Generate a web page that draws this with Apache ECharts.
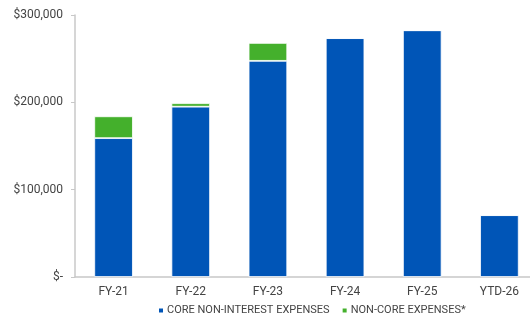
<!DOCTYPE html>
<html>
<head>
<meta charset="utf-8">
<script src="https://cdn.jsdelivr.net/npm/echarts@6/dist/echarts.min.js"></script>
<style>
  html, body { margin: 0; padding: 0; background: #fff; overflow: hidden; }
  /* plot area runs a little past the right edge of the window */
  #chart { width: 540px; height: 323px; }
</style>
</head>
<body>
<div id="chart"></div>
<script>
// Non-interest expense by fiscal year
const categories = ['FY-21', 'FY-22', 'FY-23', 'FY-24', 'FY-25', 'YTD-26'];
const coreExpenses = [159000, 195000, 247500, 273500, 282500, 70800];
const nonCoreExpenses = [25000, 4000, 20500, 0, 0, 0];
const yTicks = [0, 100000, 200000, 300000];

function formatTick(v) {
  if (v === 0) return '$-';
  return '$' + v.toLocaleString('en-US');
}

const chart = echarts.init(document.getElementById('chart'));
chart.setOption({
  animation: false,
  textStyle: { fontFamily: 'Roboto' },
  grid: { left: 75, top: 15, width: 463, height: 262, containLabel: false },
  legend: {
    bottom: 2,
    left: 152,
    itemWidth: 6,
    itemHeight: 6,
    itemGap: 11,
    icon: 'rect',
    textStyle: { fontSize: 11, color: '#444', padding: [0, 0, 0, -2] },
    data: ['CORE NON-INTEREST EXPENSES', 'NON-CORE EXPENSES*']
  },
  xAxis: {
    type: 'category',
    data: categories,
    axisLine: { lineStyle: { color: '#c8c8c8', width: 1.5 } },
    axisTick: { show: false },
    axisLabel: { color: '#444', fontSize: 12, margin: 9 }
  },
  yAxis: {
    type: 'value',
    min: yTicks[0],
    max: yTicks[yTicks.length - 1],
    interval: 100000,
    splitLine: { show: false },
    axisLine: { show: true, lineStyle: { color: '#c8c8c8', width: 1.5 } },
    axisTick: { show: true, length: 4, lineStyle: { color: '#c8c8c8' } },
    axisLabel: { color: '#444', fontSize: 12, margin: 12, formatter: formatTick }
  },
  series: [
    {
      name: 'CORE NON-INTEREST EXPENSES',
      type: 'bar',
      stack: 'total',
      barWidth: '50%',
      data: coreExpenses,
      itemStyle: { color: '#0055b7', borderColor: '#ffffff', borderWidth: 0.8 }
    },
    {
      name: 'NON-CORE EXPENSES*',
      type: 'bar',
      stack: 'total',
      barWidth: '50%',
      data: nonCoreExpenses,
      itemStyle: { color: '#44b02c', borderColor: '#ffffff', borderWidth: 0.8 }
    }
  ]
});
</script>
</body>
</html>
